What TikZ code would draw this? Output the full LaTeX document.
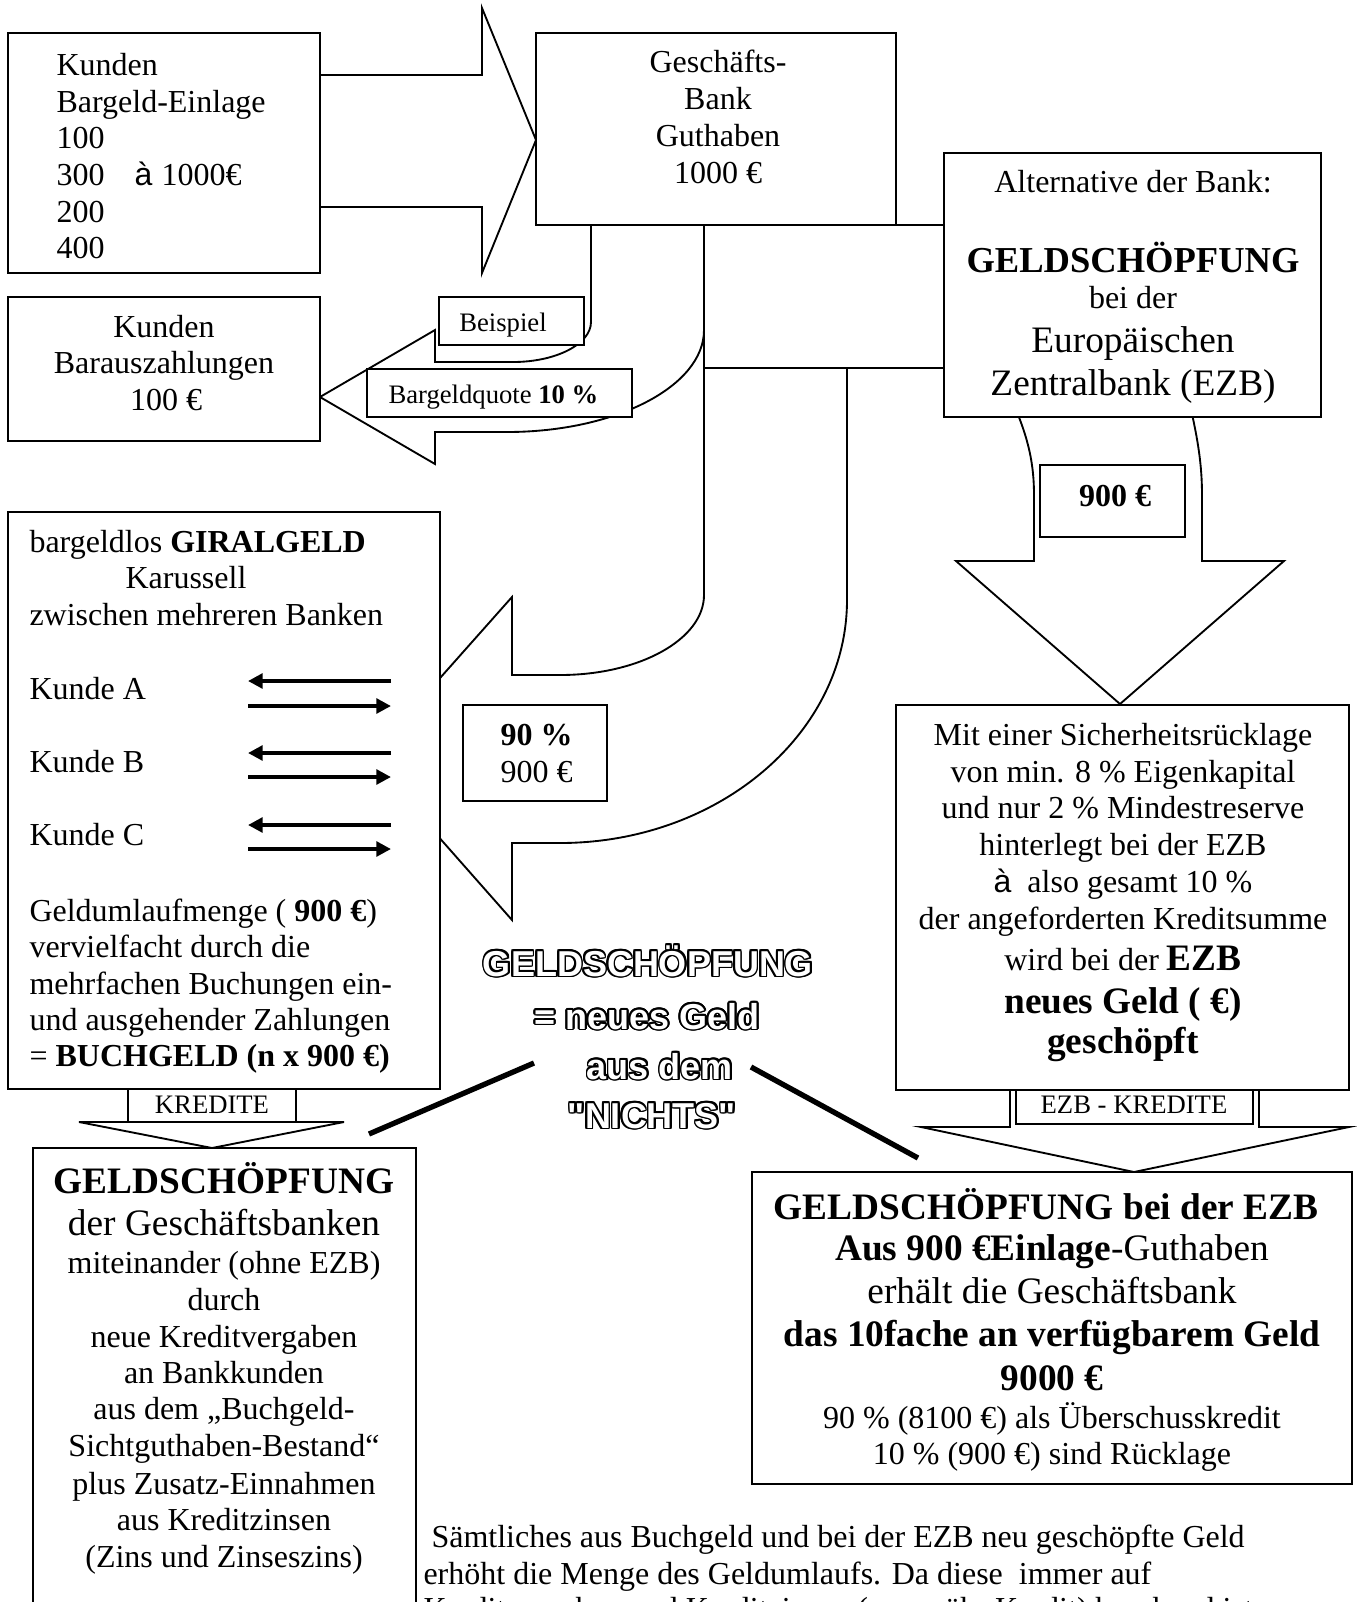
\documentclass[tikz,border=0pt]{standalone}
\usepackage{fontspec}
\setmainfont{Liberation Serif}
\newfontfamily\arialf{Liberation Sans}
\usetikzlibrary{arrows.meta,fit}
\newcommand\outl[3]{%
  \foreach \ang [count=\ci] in {0,22.5,...,337.5}{%
    \node[otext,text=black,xshift={0.7pt*cos(\ang)},yshift={0.7pt*sin(\ang)}] (#1c\ci) at (#2) {#3};
  }
  \node[otext,text=white] (#1) at (#2) {#3};
}
\begin{document}
\begin{tikzpicture}[x=0.375pt,y=-0.375pt,
  box/.style={draw,fill=white,line width=0.7pt,inner sep=0pt},
  shp/.style={draw,fill=white,line width=0.7pt,line join=miter},
  t/.style={inner sep=0pt,anchor=base,font=\fontsize{12}{14}\selectfont},
  tl/.style={t,anchor=base west},
  tb/.style={t,font=\fontsize{14}{16}\selectfont\bfseries},
  tm/.style={t,font=\fontsize{14}{16}\selectfont},
  ts/.style={t,font=\fontsize{10}{12}\selectfont},
  otext/.style={inner sep=0pt,anchor=base,font=\arialf\fontsize{13.5}{15}\selectfont\bfseries},
  karr/.style={line width=1.5pt,-{Triangle[length=5.5pt,width=5.5pt]}},
  bar/.style={line width=2pt},
]
\useasboundingbox (0,0) rectangle (1357,1602);
\clip (0,0) rectangle (1357,1602);
\fill[white] (0,0) rectangle (1357,1602);

% ---- block arrows ----
\draw[shp] (310,75) -- (482,75) -- (482,8) -- (536,140) -- (482,273) -- (482,207) -- (310,207) -- cycle;
\draw[shp] (704,300) -- (704,595) .. controls (704,639) and (640,675) .. (560,675) -- (512,675) -- (512,597)
  -- (369,758) -- (512,920) -- (512,843) -- (560,843) .. controls (718,843) and (847,734) .. (847,600) -- (847,300) -- cycle;
\node[box, fit={(704,225) (944,368)}] (band) {};
\draw[shp] (591,220) -- (591,322) .. controls (591,344) and (556,362) .. (513,362) -- (435,362) -- (435,330)
  -- (320,397) -- (435,464) -- (435,432) -- (507,432) .. controls (616,432) and (704,386) .. (704,330) -- (704,220) -- cycle;
\draw[shp] (1014,405) .. controls (1029,440) and (1034,465) .. (1034,495) -- (1034,561) -- (956,561) -- (1120,704)
  -- (1284,561) -- (1202,561) -- (1202,495) .. controls (1202,465) and (1198,440) .. (1190,405) -- cycle;
\draw[shp] (1010,1080) -- (1010,1127) -- (921,1127) -- (1134,1172) -- (1349,1127) -- (1259,1127) -- (1259,1080) -- cycle;
\node[box, fit={(1016,1086) (1253,1124)}] (ezbk) {};
\draw[shp] (128,1080) -- (128,1122) -- (79,1122) -- (212,1148) -- (344,1122) -- (296,1122) -- (296,1080) -- cycle;
\node[box, fit={(128,1086) (296,1122)}] (kred) {};

% ---- boxes ----
\node[box, fit={(8,33) (320,273)}] (einlage) {};
\node[box, fit={(536,33) (896,225)}] (bank) {};
\node[box, fit={(944,153) (1321,417)}] (alt) {};
\node[box, fit={(8,297) (320,441)}] (baraus) {};
\node[box, fit={(439,297) (584,345)}] (beisp) {};
\node[box, fit={(367,369) (632,417)}] (quote) {};
\node[box, fit={(8,512) (440,1089)}] (giral) {};
\node[box, fit={(463,705) (607,801)}] (neunzig) {};
\node[box, fit={(1040,465) (1185,537)}] (ezbneun) {};
\node[box, fit={(896,705) (1349,1090)}] (mit) {};
\node[box, fit={(752,1172) (1352,1484)}] (ezbbox) {};
\node[box, fit={(33,1148) (416,1650)}] (gbank) {};

% ---- texts ----
\node[tl] (e1) at (56,75) {Kunden};
\node[tl] (e2) at (56,112) {Bargeld-Einlage};
\node[tl] (e3) at (56,148) {100};
\node[tl] (e4) at (56,185) {300};
\node[tl,font=\arialf\fontsize{12}{14}\selectfont] (e4a) at (134,185) {à};
\node[tl] (e4b) at (161,185) {1000€};
\node[tl] (e5) at (56,222) {200};
\node[tl] (e6) at (56,258) {400};

\node[t] (g1) at (718,72) {Geschäfts-};
\node[t] (g2) at (718,109) {Bank};
\node[t] (g3) at (718,146) {Guthaben};
\node[t] (g4) at (718,183) {1000 €};

\node[t] (a1) at (1133,192) {Alternative der Bank:};
\node[t,font=\fontsize{13.7}{16}\selectfont\bfseries] (a2) at (1133,272) {GELDSCHÖPFUNG};
\node[t] (a3) at (1133,308) {bei der};
\node[tm] (a4) at (1133,352) {Europäischen};
\node[tm] (a5) at (1133,395) {Zentralbank (EZB)};

\node[t] (r1) at (164,337) {Kunden};
\node[t] (r2) at (164,373) {Barauszahlungen};
\node[t] (r3) at (166,410) {100 €};

\node[ts] (bs) at (503,331) {Beispiel};
\node[ts,anchor=base west] (bq) at (388,403) {Bargeldquote \textbf{10 \%}};

\node[tl] (z1) at (29,552) {bargeldlos \textbf{GIRALGELD}};
\node[tl] (z2) at (125,588) {Karussell};
\node[tl] (z3) at (29,625) {zwischen mehreren Banken};
\node[tl] (z4) at (29,699) {Kunde A};
\node[tl] (z5) at (29,772) {Kunde B};
\node[tl] (z6) at (29,845) {Kunde C};
\node[tl] (z7) at (29,921) {Geldumlaufmenge ( \textbf{900 €})};
\node[tl] (z8) at (29,957) {vervielfacht durch die};
\node[tl] (z9) at (29,994) {mehrfachen Buchungen ein-};
\node[tl] (z10) at (29,1030) {und ausgehender Zahlungen};
\node[tl] (z11) at (29,1066) {= \textbf{BUCHGELD (n x 900 €)}};

\coordinate (pa1) at (391,681); \coordinate (pa2) at (248,681);
\coordinate (pa3) at (248,706); \coordinate (pa4) at (391,706);
\coordinate (pb1) at (391,753); \coordinate (pb2) at (248,753);
\coordinate (pb3) at (248,777); \coordinate (pb4) at (391,777);
\coordinate (pc1) at (391,825); \coordinate (pc2) at (248,825);
\coordinate (pc3) at (248,849); \coordinate (pc4) at (391,849);
\draw[karr] (pa1) -- (pa2); \draw[karr] (pa3) -- (pa4);
\draw[karr] (pb1) -- (pb2); \draw[karr] (pb3) -- (pb4);
\draw[karr] (pc1) -- (pc2); \draw[karr] (pc3) -- (pc4);

\node[tl,font=\fontsize{12}{14}\selectfont\bfseries] (n1) at (500,745) {90 \%};
\node[tl] (n2) at (500,782) {900 €};

\node[t,font=\fontsize{12}{14}\selectfont\bfseries] (z900) at (1115,506) {900 €};

\node[t] (m1) at (1123,745) {Mit einer Sicherheitsrücklage};
\node[t] (m2) at (1123,782) {von min. 8 \% Eigenkapital};
\node[t] (m3) at (1123,818) {und nur 2 \% Mindestreserve};
\node[t] (m4) at (1123,855) {hinterlegt bei der EZB};
\node[t] (m5) at (1123,892) {{\arialf à}\ \ also gesamt 10 \%};
\node[t] (m6) at (1123,929) {der angeforderten Kreditsumme};
\node[t] (m7) at (1123,970) {wird bei der {\fontsize{14}{16}\selectfont\bfseries EZB}};
\node[tb] (m8) at (1123,1013) {neues Geld ( €)};
\node[tb] (m9) at (1123,1053) {geschöpft};

\node[ts] (ek) at (1134,1113) {EZB - KREDITE};
\node[ts] (kr) at (212,1113) {KREDITE};

\node[tb] (x1) at (1046,1219) {GELDSCHÖPFUNG bei der EZB};
\node[tm] (x2) at (1052,1260) {\textbf{Aus 900 €Einlage}-Guthaben};
\node[tm] (x3) at (1052,1303) {erhält die Geschäftsbank};
\node[tb] (x4) at (1052,1346) {das 10fache an verfügbarem Geld};
\node[tb] (x5) at (1052,1390) {9000 €};
\node[t] (x6) at (1052,1428) {90 \% (8100 €) als Überschusskredit};
\node[t] (x7) at (1052,1464) {10 \% (900 €) sind Rücklage};

\node[tb] (y1) at (224,1193) {GELDSCHÖPFUNG};
\node[tm] (y2) at (224,1235) {der Geschäftsbanken};
\node[t] (y3) at (224,1273) {miteinander (ohne EZB)};
\node[t] (y4) at (224,1310) {durch};
\node[t] (y5) at (224,1347) {neue Kreditvergaben};
\node[t] (y6) at (224,1383) {an Bankkunden};
\node[t] (y7) at (224,1419) {aus dem „Buchgeld-};
\node[t] (y8) at (224,1456) {Sichtguthaben-Bestand“};
\node[t] (y9) at (224,1494) {plus Zusatz-Einnahmen};
\node[t] (y10) at (224,1530) {aus Kreditzinsen};
\node[t] (y11) at (224,1567) {(Zins und Zinseszins)};

\node[tl] (s1) at (431,1547) {Sämtliches aus Buchgeld und bei der EZB neu geschöpfte Geld};
\node[tl] (s2) at (423,1584) {erhöht die Menge des Geldumlaufs. Da diese\ \ immer auf};
\node[tl] (s3) at (423,1619) {Kreditvergaben und Kreditzinsen (gegenüb. Kredit) beruhend ist};

% ---- outlined text ----
\outl{o1}{648,976}{GELDSCHÖPFUNG}
\outl{o2}{647,1029}{= neues Geld}
\outl{o3}{660,1079}{aus dem}
\outl{o4}{652,1128}{"NICHTS"}

\coordinate (cl1) at (534,1063); \coordinate (cl2) at (369,1134);
\coordinate (cr1) at (751,1067); \coordinate (cr2) at (918,1158);
\draw[bar] (cl1) -- (cl2);
\draw[bar] (cr1) -- (cr2);
\end{tikzpicture}
\end{document}
